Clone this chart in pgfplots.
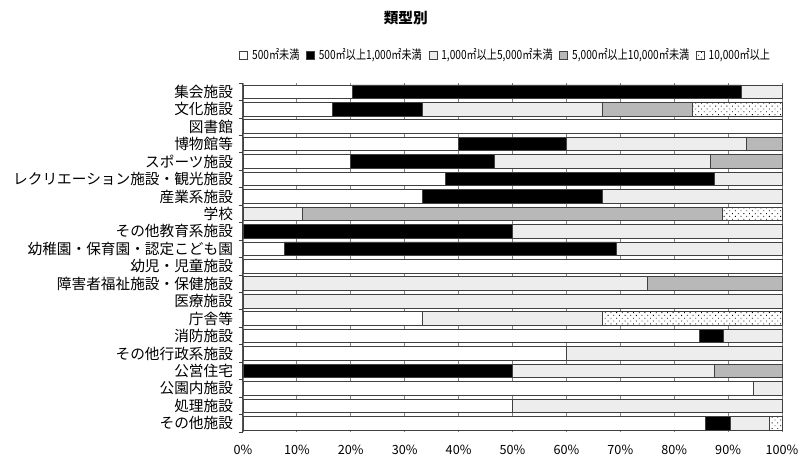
\documentclass[border=0pt]{standalone}
\usepackage{fontspec}
\setmainfont{Noto Sans CJK JP}
\usepackage{graphicx}
\usepackage{pgfplots}
\pgfplotsset{compat=1.18}
\usepackage{pgfplotstable}
\usetikzlibrary{patterns.meta}

\pgfplotstableread{
pos s1 s2 s3 s4 s5
19 20.3 72.1 7.6 0 0
18 16.67 16.67 33.33 16.67 16.66
17 100 0 0 0 0
16 40 20 33.33 6.67 0
15 20 26.67 40 13.33 0
14 37.5 50 12.5 0 0
13 33.33 33.33 33.34 0 0
12 0 0 11.11 77.78 11.11
11 0 50 50 0 0
10 7.69 61.54 30.77 0 0
9 100 0 0 0 0
8 0 0 75 25 0
7 0 0 100 0 0
6 33.33 0 33.33 0 33.34
5 84.6 4.6 10.8 0 0
4 60 0 40 0 0
3 0 50 37.5 12.5 0
2 94.74 0 5.26 0 0
1 50 0 50 0 0
0 85.71 4.76 7.15 0 2.38
}\datatable

\definecolor{bordc}{HTML}{404040}
\definecolor{lgray}{HTML}{EDEDED}
\definecolor{mgray}{HTML}{B8B8B8}
\newcommand\lt[1]{\scalebox{0.8}[1]{#1}}

\begin{document}
\begin{tikzpicture}
\begin{axis}[
  scale only axis,
  width=404.25pt, height=261.75pt,
  xbar stacked, bar width=0.78,
  xmin=0, xmax=100, ymin=-0.5, ymax=19.5,
  clip=false,
  axis x line*=bottom, axis y line*=left,
  x axis line style={draw=none},
  y axis line style={draw=bordc, line width=0.75pt},
  xtick={0,10,...,100},
  xticklabels={0\%,10\%,20\%,30\%,40\%,50\%,60\%,70\%,80\%,90\%,100\%},
  ytick={0,...,19},
  yticklabels={その他施設,処理施設,公園内施設,公営住宅,その他行政系施設,消防施設,庁舎等,医療施設,障害者福祉施設・保健施設,幼児・児童施設,幼稚園・保育園・認定こども園,その他教育系施設,学校,産業系施設,レクリエーション施設・観光施設,スポーツ施設,博物館等,図書館,文化施設,集会施設},
  minor ytick={-0.5,0.5,...,19.5},
  major tick length=0pt, minor tick length=3pt,
  tick align=outside,
  minor tick style={draw=bordc, line width=0.6pt},
  xmajorgrids,
  major grid style={draw=black!50, line width=0.6pt},
  yticklabel style={font=\fontsize{11}{13}\selectfont, xshift=-4pt},
  xticklabel style={font=\fontsize{9.5}{11}\selectfont, yshift=-6pt},
  legend columns=5,
  legend style={at={(0.488,1.080)}, anchor=center, draw=none, fill=none,
    font=\fontsize{9.5}{11}\selectfont, inner sep=0pt,
    /tikz/every odd column/.append style={column sep=1pt},
    /tikz/every even column/.append style={column sep=3pt}},
  legend image code/.code={\draw[#1,line width=0.6pt] (0pt,-3pt) rectangle (6pt,3pt);},
]
\addplot[fill=white, draw=bordc, line width=0.6pt] table[x=s1,y=pos]{\datatable};
\addplot[fill=black, draw=bordc, line width=0.6pt] table[x=s2,y=pos]{\datatable};
\addplot[fill=lgray, draw=bordc, line width=0.6pt] table[x=s3,y=pos]{\datatable};
\addplot[fill=mgray, draw=bordc, line width=0.6pt] table[x=s4,y=pos]{\datatable};
\addplot[fill=white, draw=bordc, line width=0.6pt, postaction={pattern={Dots[distance=3pt,radius=0.45pt,angle=45]}}] table[x=s5,y=pos]{\datatable};
\legend{{\lt{500㎡未満}},{\lt{500㎡以上1,000㎡未満}},{\lt{1,000㎡以上5,000㎡未満}},{\lt{5,000㎡以上10,000㎡未満}},{\lt{10,000㎡以上}}}
\node[font=\bfseries\fontsize{11}{13}\selectfont] at (rel axis cs:0.302,1.186) {類型別};
\end{axis}
\pgfresetboundingbox
\path[use as bounding box] (-182.25pt,-16.5pt) rectangle (416.25pt,324pt);
\end{tikzpicture}
\end{document}
